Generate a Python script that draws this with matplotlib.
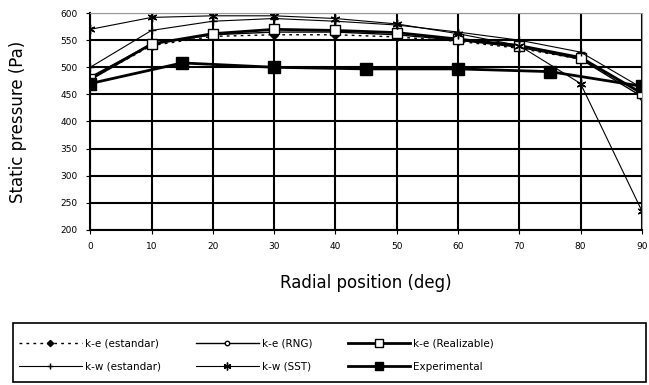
import numpy as np
from matplotlib import pyplot as plt
from matplotlib.patches import Rectangle

# radial position (deg)
x = [0, 10, 20, 30, 40, 50, 60, 70, 80, 90]
ke_std = [478, 540, 557, 560, 560, 556, 548, 535, 515, 452]
ke_rng = [482, 543, 560, 565, 565, 560, 550, 537, 515, 446]
ke_real = [478, 543, 562, 570, 568, 564, 552, 540, 518, 452]
kw_std = [500, 568, 585, 590, 585, 578, 565, 550, 528, 462]
kw_sst = [570, 592, 595, 595, 590, 580, 562, 540, 470, 235]
exp_x = [0, 15, 30, 45, 60, 75, 90]
exp_y = [470, 508, 500, 497, 497, 492, 465]

yticks = [200, 250, 300, 350, 400, 450, 500, 550, 600]
xticks = [0, 10, 20, 30, 40, 50, 60, 70, 80, 90]

fig = plt.figure(figsize=(6.49, 3.85), dpi=100)
ax = fig.add_axes([0.139, 0.403, 0.850, 0.563])

l1, = ax.plot(x, ke_std, color="black", lw=1, ls=(0, (2, 3)), marker="D",
              ms=4, mfc="black", label="k-e (estandar)")
l2, = ax.plot(x, ke_rng, color="black", lw=1, marker="o", ms=4, mfc="white",
              label="k-e (RNG)")
l3, = ax.plot(x, ke_real, color="black", lw=2, marker="s", ms=7, mfc="white",
              label="k-e (Realizable)")
l4, = ax.plot(x, kw_std, color="black", lw=0.8, marker="+", ms=6,
              label="k-w (estandar)")
l5, = ax.plot(x, kw_sst, color="black", lw=0.8, marker=(6, 2, 0), ms=7,
              label="k-w (SST)")
l6, = ax.plot(exp_x, exp_y, color="black", lw=2, marker="s", ms=8,
              mfc="black", label="Experimental")

ax.set_xlim(0, 90)
ax.set_ylim(200, 600)
ax.set_xticks(xticks)
ax.set_yticks(yticks)
ax.tick_params(labelsize=6.5, length=3, pad=6)
ax.grid(True, color="black", lw=1.5)
ax.set_axisbelow(True)
for s in ["top", "right"]:
    ax.spines[s].set_color("#999999")
ax.spines["left"].set_lw(1.5)
ax.spines["bottom"].set_lw(1.5)

ax.set_xlabel("Radial position (deg)", fontsize=12, labelpad=16)
ax.set_ylabel("Static pressure (Pa)", fontsize=12, labelpad=24)

# column-major fill, so this order gives the rows of the reference
hs = [l1, l4, l2, l5, l3, l6]
leg = fig.legend(handles=hs, labels=[h.get_label() for h in hs],
                 loc="lower left", ncol=3, fontsize=7.5, handlelength=6,
                 handletextpad=0.3, columnspacing=3.4, frameon=False,
                 borderpad=0.4, labelspacing=1.3, markerscale=0.8,
                 bbox_to_anchor=(0.015, 0.01), bbox_transform=fig.transFigure)

# legend frame spanning nearly the full width
fig.patches.append(Rectangle((0.02, 0.007), 0.975, 0.155, fill=False,
                             ec="black", lw=1.2, transform=fig.transFigure))

fig.savefig("out.png", dpi=100)
